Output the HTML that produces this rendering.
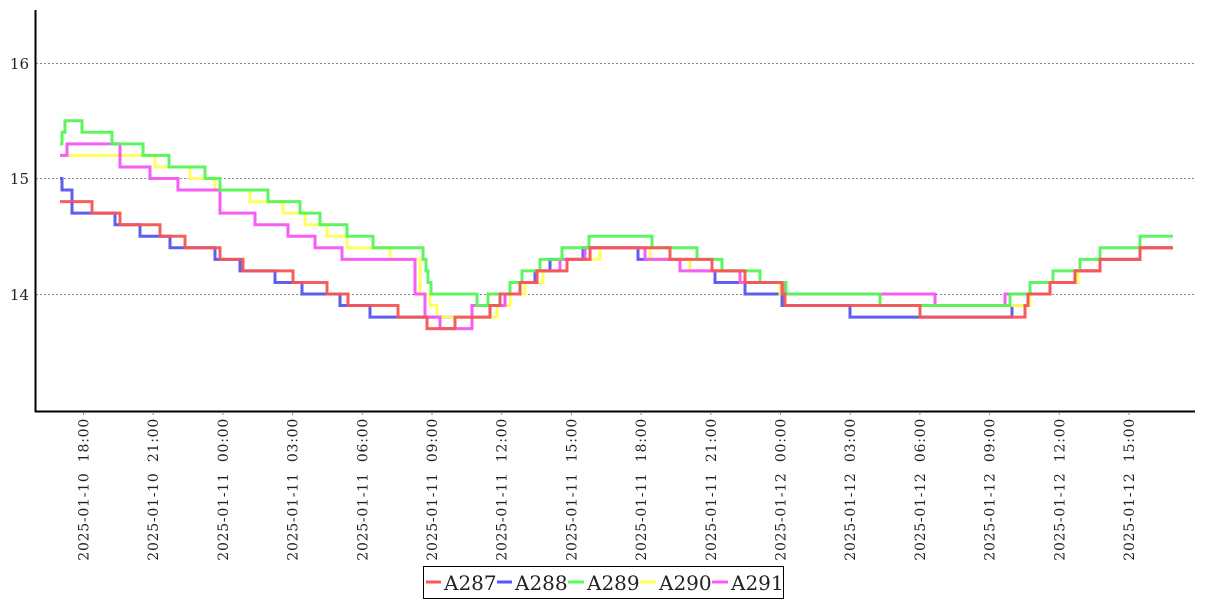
<!DOCTYPE html>
<html><head><meta charset="utf-8"><style>
html,body{margin:0;padding:0;background:#fff;}
svg text{font-family:"DejaVu Serif","Liberation Serif",serif;fill:#222;}
</style></head><body>
<svg id="s" width="1207" height="600" viewBox="0 0 1207 600" xmlns="http://www.w3.org/2000/svg">
<g stroke="#888" stroke-dasharray="2,2" stroke-width="1">
<line x1="36" y1="63.5" x2="1195" y2="63.5"/>
<line x1="36" y1="178.5" x2="1195" y2="178.5"/>
<line x1="36" y1="294.5" x2="1195" y2="294.5"/>
</g>
<line x1="35.5" y1="10" x2="35.5" y2="412" stroke="#000" stroke-width="2"/>
<line x1="35" y1="411.5" x2="1195" y2="411.5" stroke="#000" stroke-width="2"/>
<g font-size="15" text-anchor="end">
<text x="29" y="69">16</text><text x="29" y="184">15</text><text x="29" y="300">14</text>
</g>
<g id="ticks"></g>
<g id="series" fill="none" stroke-width="3" stroke-linejoin="miter"></g>
<rect x="423.5" y="566.5" width="360" height="32" fill="#fff" stroke="#000"/>
<g font-size="20">
<line x1="426" y1="582" x2="441" y2="582" stroke="#f55" stroke-width="3"/><text x="444" y="590">A287</text>
<line x1="497" y1="582" x2="512" y2="582" stroke="#55f" stroke-width="3"/><text x="515" y="590">A288</text>
<line x1="568" y1="582" x2="584" y2="582" stroke="#5f5" stroke-width="3"/><text x="587" y="590">A289</text>
<line x1="640" y1="582" x2="656" y2="582" stroke="#ff5" stroke-width="3"/><text x="659" y="590">A290</text>
<line x1="712" y1="582" x2="728" y2="582" stroke="#f5f" stroke-width="3"/><text x="731" y="590">A291</text>
</g>
</svg>
<script>
var NS="http://www.w3.org/2000/svg";
var labels=["2025-01-10  18:00","2025-01-10  21:00","2025-01-11  00:00","2025-01-11  03:00","2025-01-11  06:00","2025-01-11  09:00","2025-01-11  12:00","2025-01-11  15:00","2025-01-11  18:00","2025-01-11  21:00","2025-01-12  00:00","2025-01-12  03:00","2025-01-12  06:00","2025-01-12  09:00","2025-01-12  12:00","2025-01-12  15:00"];
var tg=document.getElementById("ticks");
labels.forEach(function(l,i){var x=83.5+i*69.7;
var ln=document.createElementNS(NS,"line");ln.setAttribute("x1",x);ln.setAttribute("x2",x);ln.setAttribute("y1",412);ln.setAttribute("y2",415);ln.setAttribute("stroke","#888");tg.appendChild(ln);
var t=document.createElementNS(NS,"text");t.setAttribute("transform","translate("+(x+5)+",418) rotate(-90)");t.setAttribute("text-anchor","end");t.setAttribute("font-size","14");t.setAttribute("letter-spacing","0.75");t.style.whiteSpace="pre";t.textContent=l;tg.appendChild(t);});
function Y(v){return 294-(v-14)*115.5;}
var END=1173;
var S={
blue:["#5555ee",[[60,15.0],[62,14.9],[72,14.7],[115,14.6],[140,14.5],[170,14.4],[215,14.3],[240,14.2],[275,14.1],[302,14.0],[340,13.9],[370,13.8],[430,13.8],[490,13.9],[505,14.0],[520,14.1],[535,14.2],[550,14.3],[583,14.4],[638,14.3],[690,14.2],[715,14.1],[745,14.0],[782,13.9],[850,13.8],[1012,13.9],[1028,14.0],[1050,14.1],[1075,14.2],[1100,14.3],[1140,14.4]]],
yellow:["#ffff55",[[62,15.2],[155,15.1],[190,15.0],[215,14.9],[250,14.8],[283,14.7],[305,14.6],[327,14.5],[347,14.4],[390,14.3],[420,14.0],[430,13.9],[437,13.8],[497,13.9],[510,14.0],[525,14.1],[543,14.2],[560,14.3],[600,14.4],[650,14.3],[690,14.2],[740,14.1],[780,14.0],[880,13.9],[1030,14.0],[1050,14.1],[1078,14.2],[1100,14.3],[1140,14.4]]],
magenta:["#f555f5",[[60,15.2],[67,15.3],[120,15.1],[150,15.0],[178,14.9],[220,14.7],[255,14.6],[288,14.5],[315,14.4],[342,14.3],[415,14.0],[425,13.8],[440,13.7],[472,13.9],[505,14.0],[520,14.1],[537,14.2],[560,14.3],[585,14.4],[645,14.3],[680,14.2],[740,14.1],[785,14.0],[935,13.9],[1005,14.0],[1050,14.1],[1075,14.2],[1100,14.3],[1140,14.4]]],
green:["#55f555",[[60,15.3],[62,15.4],[65,15.5],[82,15.4],[112,15.3],[143,15.2],[169,15.1],[205,15.0],[220,14.9],[268,14.8],[300,14.7],[320,14.6],[347,14.5],[373,14.4],[423,14.3],[426,14.2],[428,14.1],[431,14.0],[477,13.9],[488,14.0],[510,14.1],[522,14.2],[540,14.3],[562,14.4],[589,14.5],[652,14.4],[697,14.3],[722,14.2],[760,14.1],[786,14.0],[880,13.9],[1010,14.0],[1030,14.1],[1053,14.2],[1080,14.3],[1100,14.4],[1140,14.5]]],
red:["#f55555",[[60,14.8],[92,14.7],[120,14.6],[160,14.5],[185,14.4],[220,14.3],[243,14.2],[293,14.1],[327,14.0],[348,13.9],[398,13.8],[427,13.7],[455,13.8],[490,13.9],[500,14.0],[520,14.1],[537,14.2],[567,14.3],[590,14.4],[670,14.3],[712,14.2],[745,14.1],[782,14.0],[785,13.9],[920,13.8],[1025,13.9],[1028,14.0],[1050,14.1],[1075,14.2],[1100,14.3],[1140,14.4]]]
};
var g=document.getElementById("series");
["blue","yellow","magenta","green","red"].forEach(function(k){var c=S[k][0],p=S[k][1],d="M"+p[0][0]+","+Y(p[0][1]);
for(var i=1;i<p.length;i++){d+=" H"+p[i][0]+" V"+Y(p[i][1]);}d+=" H"+END;
var e=document.createElementNS(NS,"path");e.setAttribute("d",d);e.setAttribute("stroke",c);e.setAttribute("stroke-opacity","0.95");g.appendChild(e);});
</script>
</body></html>
